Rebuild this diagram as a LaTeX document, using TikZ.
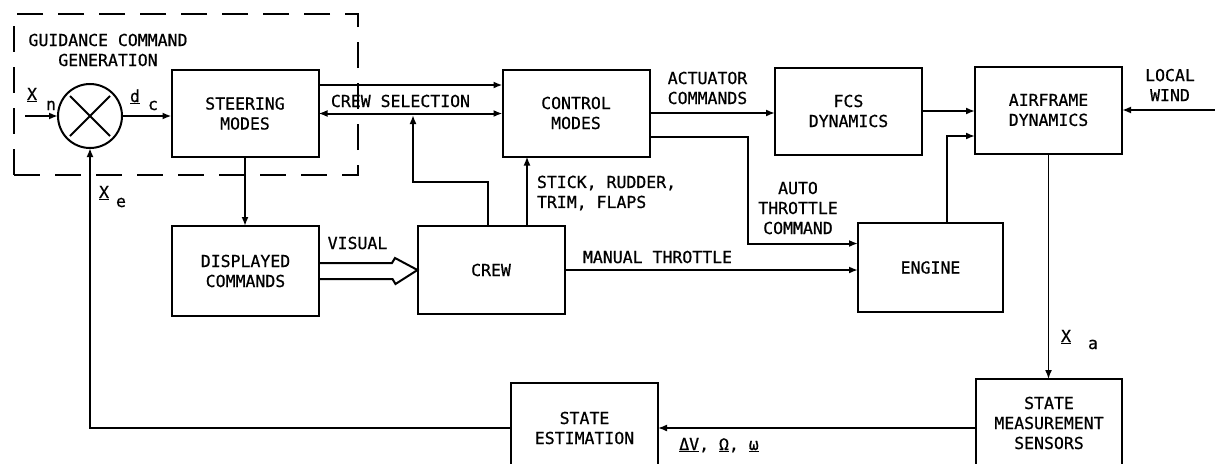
\documentclass[tikz,border=0pt]{standalone}
\usepackage{fontspec}
\usetikzlibrary{arrows.meta,calc}
\newfontfamily\lblfont[FakeBold=0.7]{DejaVu Sans Mono}
\begin{document}
\begin{tikzpicture}[x=1pt,y=-1pt,
  every node/.style={font=\lblfont\fontsize{16.5}{20}\selectfont, inner sep=0pt, outer sep=0pt},
  blk/.style={draw, line width=2pt, rectangle, align=center, minimum width=147pt, minimum height=87pt},
  lbl/.style={align=center},
  ln/.style={line width=2pt},
  arr/.style={line width=2pt, -{Latex[length=9pt,width=7pt]}},
  darr/.style={line width=2pt, {Latex[length=9pt,width=7pt]}-{Latex[length=9pt,width=7pt]}},
  grp/.style={draw, line width=2pt, dash pattern=on 26pt off 15pt, rectangle}
]
\useasboundingbox (0,0) rectangle (1215,463);
\clip (0,0) rectangle (1215,463);

% group frame
\node[grp, minimum width=344pt, minimum height=161pt] (gcg) at (186,94.5) {};
\node[lbl] (gcgt) at (108,50) {GUIDANCE COMMAND\\GENERATION};

% summing junction
\node[circle, draw, line width=2pt, minimum size=64pt] (sum) at (90,116) {};
\draw[ln] ([shift={(-20,-20)}]sum.center) -- ([shift={(20,20)}]sum.center);
\draw[ln] ([shift={(-20,20)}]sum.center) -- ([shift={(20,-20)}]sum.center);

% blocks
\node[blk] (steer) at (245,113.5) {STEERING\\MODES};
\node[blk] (ctrl) at (576,113) {CONTROL\\MODES};
\node[blk] (fcs) at (848.5,111) {FCS\\DYNAMICS};
\node[blk] (air) at (1048.5,110) {AIRFRAME\\DYNAMICS};
\node[blk, minimum height=90pt] (disp) at (245.5,271) {DISPLAYED\\COMMANDS};
\node[blk, minimum height=88pt] (crew) at (491,270) {CREW};
\node[blk, minimum width=145pt, minimum height=89pt] (eng) at (930.5,267.5) {ENGINE};
\node[blk, minimum height=90pt] (est) at (584.5,428) {STATE\\ESTIMATION};
\node[blk, minimum width=146pt, minimum height=88pt] (meas) at (1049,423) {STATE\\MEASUREMENT\\SENSORS};

% free ends / junctions
\coordinate (xin) at (25,116);
\coordinate (wind) at (1215,110);
\coordinate (csj) at (413,115);
\coordinate (stk) at ([xshift=36pt]crew.north);
\coordinate (atA) at ([yshift=-24pt]ctrl.east);
\coordinate (atB) at ([yshift=24pt]eng.west);
\coordinate (eaA) at ([xshift=16pt]eng.north);
\coordinate (eaB) at ([yshift=-26pt]air.west);
\coordinate (csT) at ([yshift=28.5pt]steer.east);

% connectors
\draw[arr] (xin) -- (sum.west);
\draw[arr] (sum.east) -- (sum.east -| steer.west);
\draw[arr] (csT) -- (csT -| ctrl.west);
\draw[darr] (steer.east) -- (steer.east -| ctrl.west);
\draw[arr] ([xshift=-3pt]crew.north) -- ++(0,-44) -| (csj);
\draw[arr] (stk) -- (stk |- ctrl.south);
\draw[arr] (ctrl.east) -- (ctrl.east -| fcs.west);
\draw[arr] (atA) -- ++(98,0) |- (atB);
\draw[arr] (crew.east) -- (crew.east -| eng.west);
\draw[arr] (fcs.east) -- (fcs.east -| air.west);
\draw[arr] (eaA) |- (eaB);
\draw[arr] (wind) -- (air.east);
\draw[arr, line width=1.6pt] (air.south) -- (air.south |- meas.north);
\draw[arr, line width=1.6pt] (est.east -| meas.west) -- (est.east);
\draw[arr] (est.west) -| (sum.south);
\draw[arr] (steer.south) -- (steer.south |- disp.north);
% visual (double) arrow
\draw[ln, line join=miter] ([yshift=8pt]disp.east) -- ++(73,0) -- ++(3,-5) -- (crew.west) -- ++(-22,14) -- ++(-3,-5) -- ([yshift=-8pt]disp.east);

% labels
\node[anchor=base] (lxn) at (32,100) {\underline{X}};
\node[anchor=base] (lxns) at (51,110) {n};
\node[anchor=base] (ldc) at (135,102) {\underline{d}};
\node[anchor=base] (ldcs) at (153,110) {c};
\node[anchor=base] (lxe) at (104,198) {\underline{X}};
\node[anchor=base] (lxes) at (121,207) {e};
\node[anchor=base] (lxa) at (1066,342) {\underline{X}};
\node[anchor=base] (lxas) at (1093,349) {a};
\node[anchor=base] (lcs) at (400.5,107) {CREW SELECTION};
\node[lbl] (lact) at (707.5,88) {ACTUATOR\\COMMANDS};
\node[align=left, anchor=west] (lstk) at (537,193) {STICK, RUDDER,\\TRIM, FLAPS};
\node[lbl] (lat) at (798,208) {AUTO\\THROTTLE\\COMMAND};
\node[lbl] (lwind) at (1170,85) {LOCAL\\WIND};
\node[anchor=base] (lvis) at (357.5,249) {VISUAL};
\node[anchor=base] (lmt) at (657.5,263) {MANUAL THROTTLE};
\node[anchor=base] (ldv) at (719,450) {\underline{ΔV}, \underline{Ω}, \underline{ω}};
\end{tikzpicture}
\end{document}
